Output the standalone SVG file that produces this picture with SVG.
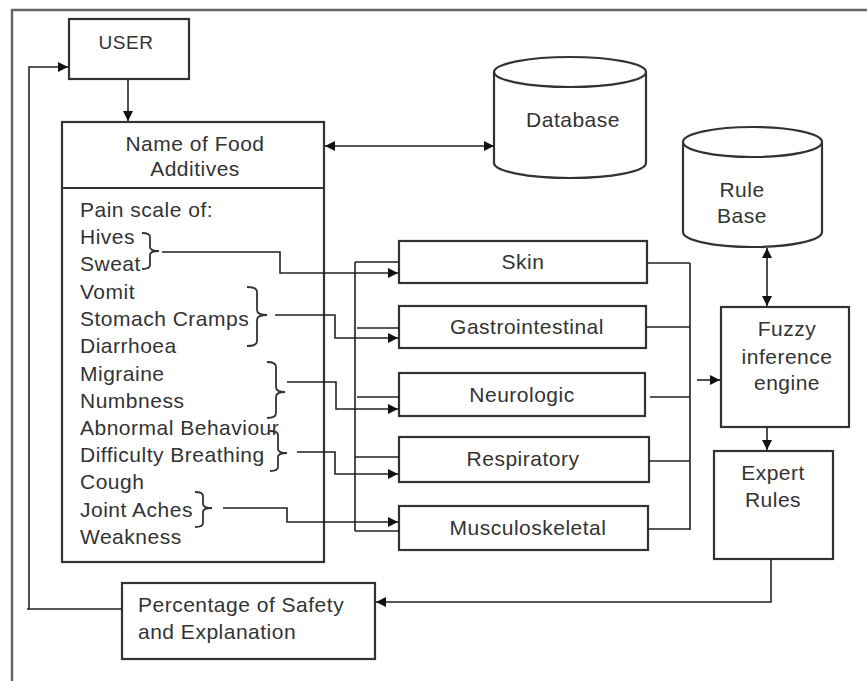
<svg xmlns="http://www.w3.org/2000/svg" width="867" height="681" viewBox="0 0 867 681">
<style>
text{font-family:"Liberation Sans",Arial,sans-serif;font-size:21px;fill:#333;letter-spacing:0.5px}
.c{text-anchor:middle}
.box{fill:#fff;stroke:#333;stroke-width:2.2}
.ln{fill:none;stroke:#222;stroke-width:1.6}
.br{fill:none;stroke:#333;stroke-width:1.8}
</style>
<defs>
<marker id="ah" viewBox="0 0 10 10" refX="10" refY="5" markerWidth="11" markerHeight="10" markerUnits="userSpaceOnUse" orient="auto-start-reverse">
<path d="M0,0 L10,5 L0,10 z" fill="#111"/>
</marker>
</defs>
<rect width="867" height="681" fill="#fff"/>
<g id="frame">
<path d="M12,681 L12,10 L867,10" fill="none" stroke="#666" stroke-width="2.5"/>
</g>
<g id="user"><rect class="box" x="69" y="19" width="120" height="60"/><text class="c" x="126" y="49" style="font-size:19px">USER</text></g>
<g id="food">
<rect class="box" x="62" y="122" width="262" height="440"/>
<line x1="62" y1="188" x2="324" y2="188" stroke="#333" stroke-width="2.2"/>
<text class="c" x="195" y="151">Name of Food</text>
<text class="c" x="195" y="176">Additives</text>
<text x="80" y="217">Pain scale of:</text>
<text x="80" y="244">Hives</text>
<text x="80" y="271">Sweat</text>
<text x="80" y="298.5">Vomit</text>
<text x="80" y="326">Stomach Cramps</text>
<text x="80" y="353">Diarrhoea</text>
<text x="80" y="380.5">Migraine</text>
<text x="80" y="408">Numbness</text>
<text x="80" y="435">Abnormal Behaviour</text>
<text x="80" y="462">Difficulty Breathing</text>
<text x="80" y="489">Cough</text>
<text x="80" y="516.5">Joint Aches</text>
<text x="80" y="544">Weakness</text>
<path class="br" d="M142,233 Q150,233 150,237 L150,247 Q150,251 159,251 Q150,251 150,255 L150,265 Q150,269 142,269"/>
<path class="br" d="M247,287 Q257,287 257,292 L257,310 Q257,315 267,315 Q257,315 257,320 L257,341 Q257,346 247,346"/>
<path class="br" d="M267,362 Q276,362 276,367 L276,387 Q276,392 285,392 Q276,392 276,397 L276,413 Q276,418 267,418"/>
<path class="br" d="M270,431 Q278,431 278,435 L278,449 Q278,453 287,453 Q278,453 278,457 L278,467 Q278,471 270,471"/>
<path class="br" d="M195,492 Q203,492 203,496 L203,504 Q203,508 212,508 Q203,508 203,512 L203,523 Q203,527 195,527"/>
</g>
<g id="database">
<path class="box" d="M494,72 L494,163 A76,15 0 0 0 646,163 L646,72"/>
<ellipse class="box" cx="570" cy="72" rx="76" ry="15"/>
<text class="c" x="573" y="127">Database</text>
</g>
<g id="rulebase">
<path class="box" d="M683,142 L683,232 A69.5,15 0 0 0 822,232 L822,142"/>
<ellipse class="box" cx="752.5" cy="142" rx="69.5" ry="15"/>
<text class="c" x="742" y="197">Rule</text>
<text class="c" x="742" y="223">Base</text>
</g>
<g id="skin"><rect class="box" x="399" y="241" width="248" height="42"/><text class="c" x="523" y="269">Skin</text></g>
<g id="gastro"><rect class="box" x="399" y="306" width="247" height="42"/><text class="c" x="527" y="334">Gastrointestinal</text></g>
<g id="neuro"><rect class="box" x="399" y="373" width="246" height="43"/><text class="c" x="522" y="402">Neurologic</text></g>
<g id="resp"><rect class="box" x="399" y="437" width="250" height="45"/><text class="c" x="523" y="466">Respiratory</text></g>
<g id="musc"><rect class="box" x="399" y="506" width="249" height="44"/><text class="c" x="528" y="535">Musculoskeletal</text></g>
<g id="fuzzy"><rect class="box" x="721" y="307" width="128" height="120"/>
<text class="c" x="787" y="336">Fuzzy</text><text class="c" x="787" y="364">inference</text><text class="c" x="787" y="390">engine</text></g>
<g id="expert"><rect class="box" x="714" y="451" width="119" height="108"/>
<text class="c" x="773" y="480">Expert</text><text class="c" x="773" y="507">Rules</text></g>
<g id="percentage"><rect class="box" x="122" y="583" width="253" height="76"/>
<text x="138" y="612">Percentage of Safety</text><text x="138" y="639">and Explanation</text></g>
<g id="connectors">
<path class="ln" d="M128,79 L128,121" marker-end="url(#ah)"/>
<path class="ln" d="M325,146 L494,146" marker-start="url(#ah)" marker-end="url(#ah)"/>
<path class="ln" d="M767,248 L767,306" marker-start="url(#ah)" marker-end="url(#ah)"/>
<path class="ln" d="M767,427 L767,450" marker-end="url(#ah)"/>
<path class="ln" d="M771,559 L771,602 L376,602" marker-end="url(#ah)"/>
<path class="ln" d="M122,609 L27,609 M29,609 L29,67 L68,67" marker-end="url(#ah)"/>
<path class="ln" d="M162,252 L280,252 L280,273 L398,273" marker-end="url(#ah)"/>
<path class="ln" d="M275,315 L335,315 L335,338 L398,338" marker-end="url(#ah)"/>
<path class="ln" d="M287,382 L336,382 L336,409 L398,409" marker-end="url(#ah)"/>
<path class="ln" d="M297,452 L335,452 L335,474 L398,474" marker-end="url(#ah)"/>
<path class="ln" d="M223,508 L287,508 L287,522 L398,522" marker-end="url(#ah)"/>
<path class="ln" d="M355,262 L355,531 M355,262 L399,262 M357,328 L399,328 M357,397 L399,397 M355,457 L399,457 M355,531 L399,531"/>
<path class="ln" d="M690,263 L690,530 M647,263 L690,263 M646,327 L690,327 M650,397 L690,397 M649,461 L690,461 M648,529 L690,529"/>
<path class="ln" d="M697,380 L720,380" marker-end="url(#ah)"/>
</g>
</svg>
